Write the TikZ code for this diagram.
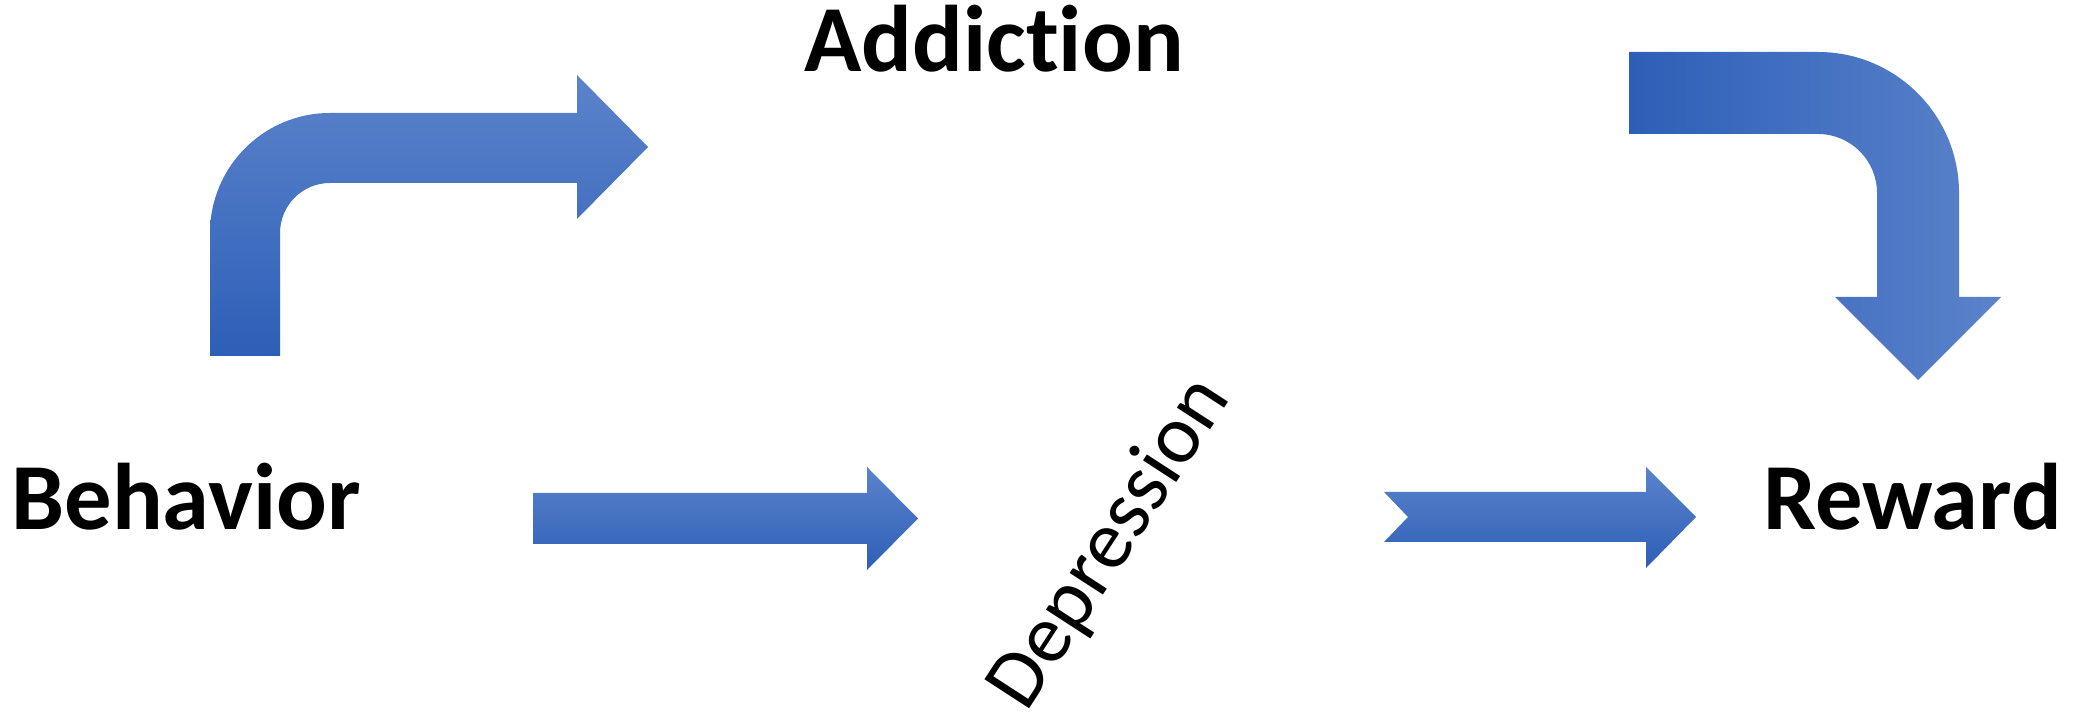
\documentclass[tikz,border=0pt]{standalone}
\usepackage{fontspec}
\setmainfont{Carlito}[Ligatures={NoCommon,NoRequired,NoContextual}]
\definecolor{arrowlight}{RGB}{92,131,203}
\definecolor{arrowdark}{RGB}{45,95,183}
\begin{document}
\begin{tikzpicture}[x=0.5pt,y=0.5pt,
  label/.style={inner sep=0pt,font=\fontsize{47.3}{56}\selectfont\bfseries},
  slanted/.style={inner sep=0pt,font=\fontsize{41.5}{50}\selectfont},
  vshade/.style={top color=arrowlight,bottom color=arrowdark,draw=none},
  hshade/.style={left color=arrowdark,right color=arrowlight,draw=none}]
\useasboundingbox (0,0) rectangle (2075,721);

% labels
\node[label,anchor=base west] (behavior) at (11,191) {Behavior};
\node[label,anchor=base] (addiction) at (994,649) {Addiction};
\node[label,anchor=base west] (reward) at (1763,191) {Reward};
\node[slanted,anchor=base west,rotate=57] (depression) at (1026,7) {Depression};

% bent arrow rising from Behavior towards Addiction
\shade[vshade] (210,365) -- (210,488) arc[start angle=180,end angle=90,radius=120]
  -- (577,608) -- (577,646) -- (648,574) -- (577,502) -- (577,538)
  -- (330,538) arc[start angle=90,end angle=180,radius=50]
  -- (280,365) -- cycle;

% bent arrow from Addiction turning down to Reward
\shade[hshade] (1629,669) -- (1818,669) arc[start angle=90,end angle=0,radius=141]
  -- (1959,424) -- (2001,424) -- (1918,341) -- (1835,424) -- (1877,424)
  -- (1877,528) arc[start angle=0,end angle=90,radius=59]
  -- (1629,587) -- cycle;

% straight arrow Behavior -> Depression
\shade[vshade] (533,177) -- (533,228) -- (867,228) -- (867,254) -- (918,202.5)
  -- (867,151) -- (867,177) -- cycle;

% notched arrow Depression -> Reward
\shade[vshade] (1384,179) -- (1408,204) -- (1384,229) -- (1646,229) -- (1646,254)
  -- (1696,204) -- (1646,153) -- (1646,179) -- cycle;
\end{tikzpicture}
\end{document}
